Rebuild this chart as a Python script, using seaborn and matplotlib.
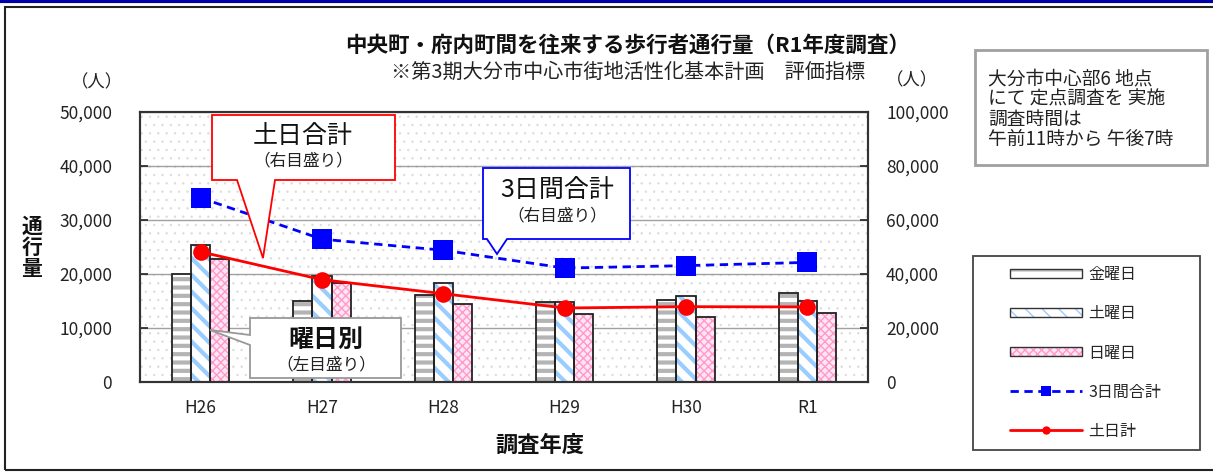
import numpy as np
import pandas as pd
import matplotlib
matplotlib.use("Agg")
import matplotlib.pyplot as plt
import seaborn as sns
from matplotlib.patches import Rectangle, Polygon, Patch
from matplotlib.lines import Line2D
from matplotlib.ticker import FuncFormatter

years = ["H26", "H27", "H28", "H29", "H30", "R1"]
fri = [20000, 15000, 16100, 14800, 15200, 16500]
sat = [25400, 19600, 18300, 14800, 15900, 15000]
sun = [22800, 18300, 14400, 12600, 12000, 12800]
total3 = [68200, 52900, 48800, 42200, 43100, 44300]
satsun = [48200, 37900, 32700, 27400, 27900, 27800]
day_labels = ["金曜日", "土曜日", "日曜日"]

sns.set_style("white")
plt.rcParams['font.family'] = ['Noto Sans CJK JP', 'DejaVu Sans']

W, H = 1213, 473
fig = plt.figure(figsize=(W / 100, H / 100), dpi=100)

def px(x, y):
    return (x / W, 1 - y / H)

ax = fig.add_axes([140 / W, 1 - 382 / H, (868 - 140) / W, (382 - 112) / H])

df = pd.DataFrame({
    "year": years * 3,
    "day": [day_labels[0]] * 6 + [day_labels[1]] * 6 + [day_labels[2]] * 6,
    "value": fri + sat + sun,
})
sns.barplot(data=df, x="year", y="value", hue="day", ax=ax, width=0.47, gap=0,
            errorbar=None, legend=False, saturation=1)

# bar styles: facecolor, hatch colour, hatch, hatch width
styles = [("white", "#b4b4b4", "--", 3.0),
          ("white", "#99ccff", "\\\\", 3.0),
          ("#ffe6f2", "#ff99cc", "xxxx", 1.0)]

def style_patch(p, fc, hc, hatch, hlw):
    p.set_facecolor(fc)
    p.set_edgecolor(hc)
    p.set_hatch(hatch)
    p.set_linewidth(0)
    try:
        p.set_hatch_linewidth(hlw)
    except AttributeError:
        pass

for cont, st in zip(ax.containers, styles):
    for bar in cont:
        style_patch(bar, *st)
        ax.add_patch(Rectangle(bar.get_xy(), bar.get_width(), bar.get_height(),
                               fill=False, ec="#222222", lw=1.3, zorder=bar.get_zorder() + 0.1))

# dotted background
bg = Rectangle((0, 0), 1, 1, transform=ax.transAxes, facecolor="white", hatch="..",
               edgecolor="#dcdcdc", lw=0, zorder=0)
try:
    bg.set_hatch_linewidth(0.5)
except AttributeError:
    pass
ax.add_patch(bg)

ax.set_xlim(-0.5, 5.5)
ax.set_ylim(0, 50000)
ax.set_yticks(np.arange(0, 50001, 10000))
ax.yaxis.set_major_formatter(FuncFormatter(lambda v, p: f"{int(v):,}"))
ax.grid(axis="y", color="#a0a0a0", lw=1)
ax.set_axisbelow(True)
ax.set_xlabel("")
ax.set_ylabel("")
ax.set_xticks(np.arange(0.5, 5.5, 1), minor=True)
ax.tick_params(axis="x", which="major", length=0, pad=12, labelsize=12.5, colors="#222222")
ax.tick_params(axis="x", which="minor", direction="in", length=8, width=1.2, color="#333333")
ax.tick_params(axis="y", direction="in", length=6, width=1.2, pad=20, labelsize=12.5,
               colors="#222222")
for s in ax.spines.values():
    s.set_color("#333333")
    s.set_linewidth(1.5)

ax2 = ax.twinx()
ax2.set_ylim(0, 100000)
ax2.set_yticks(np.arange(0, 100001, 20000))
ax2.yaxis.set_major_formatter(FuncFormatter(lambda v, p: f"{int(v):,}"))
ax2.tick_params(axis="y", direction="in", length=6, width=1.2, pad=13, labelsize=12.5,
                colors="#222222")
for s in ax2.spines.values():
    s.set_color("#333333")
    s.set_linewidth(1.5)
xpos = np.arange(len(years))
sns.lineplot(x=xpos, y=total3, ax=ax2, color="#0000ff", lw=2, linestyle=(0, (3, 2)),
             marker="s", markersize=14, markeredgewidth=0)
sns.lineplot(x=xpos, y=satsun, ax=ax2, color="#ff0000", lw=2, marker="o", markersize=12,
             markeredgewidth=0)
ax2.set_xlim(-0.5, 5.5)
ax2.set_ylabel("")

# outer frame and top line
fig.add_artist(Rectangle(px(5, 470), 1.0, (470 - 7) / H, transform=fig.transFigure,
                         fill=False, ec="#222222", lw=1.5))
fig.add_artist(Line2D([0, 1], [1 - 1 / H, 1 - 1 / H], transform=fig.transFigure,
                      color="#0000aa", lw=3))

# texts
fig.text(*px(628, 45), "中央町・府内町間を往来する歩行者通行量（R1年度調査）", ha="center",
         va="center", fontsize=15.5, fontweight="bold", color="#111111")
fig.text(*px(628, 72), "※第3期大分市中心市街地活性化基本計画　評価指標", ha="center",
         va="center", fontsize=14.5, color="#222222")
fig.text(*px(97, 82), "（人）", ha="center", va="center", fontsize=12.5, color="#222222")
fig.text(*px(912, 80), "（人）", ha="center", va="center", fontsize=12.5, color="#222222")
fig.text(*px(32, 247), "通\n行\n量", ha="center", va="center", fontsize=15,
         fontweight="bold", linespacing=1.0, color="#111111")
fig.text(*px(540, 445), "調査年度", ha="center", va="center", fontsize=16,
         fontweight="bold", color="#111111")

# note box
fig.add_artist(Rectangle(px(975, 165), (1207 - 975) / W, (165 - 50) / H,
                         transform=fig.transFigure, fill=False, ec="#a0a0a0", lw=2))
fig.text(*px(988, 109), "大分市中心部6 地点\nにて 定点調査を 実施\n調査時間は\n午前11時から 午後7時",
         ha="left", va="center", fontsize=13.5, linespacing=0.95, color="#222222")

# callouts
def callout(points, ec, lw=1.3):
    fig.add_artist(Polygon([px(x, y) for x, y in points], closed=True,
                           transform=fig.transFigure, fc="white", ec=ec, lw=lw))

callout([(212, 115), (395, 115), (395, 180), (275, 180), (263, 258), (237, 180), (212, 180)],
        "#ff0000")
fig.text(*px(303, 136), "土日合計", ha="center", va="center", fontsize=18, color="#111111")
fig.text(*px(303, 161), "（右目盛り）", ha="center", va="center", fontsize=12, color="#222222")

callout([(483, 168), (630, 168), (630, 239), (507, 239), (497, 254), (487, 239), (483, 239)],
        "#0000ff")
fig.text(*px(557, 191), "3日間合計", ha="center", va="center", fontsize=18, color="#111111")
fig.text(*px(557, 216), "（右目盛り）", ha="center", va="center", fontsize=12, color="#222222")

callout([(250, 318), (401, 318), (401, 378), (250, 378), (250, 345), (210, 330), (250, 335)],
        "#999999")
fig.text(*px(326, 340), "曜日別", ha="center", va="center", fontsize=18, fontweight="bold",
         color="#111111")
fig.text(*px(326, 365), "（左目盛り）", ha="center", va="center", fontsize=12, color="#222222")

# legend
fig.add_artist(Rectangle(px(973, 450), (1200 - 973) / W, (450 - 256) / H,
                         transform=fig.transFigure, fill=False, ec="#444444", lw=1.3))
handles = []
for st in styles:
    fill = Patch()
    style_patch(fill, *st)
    outline = Patch(fill=False, edgecolor="#333333", lw=1)
    handles.append((fill, outline))
handles.append(Line2D([], [], color="#0000ff", lw=2, linestyle=(0, (3, 2)), marker="s",
                      markersize=7, markeredgewidth=0))
handles.append(Line2D([], [], color="#ff0000", lw=2, marker="o", markersize=6,
                      markeredgewidth=0))
fig.legend(handles, day_labels + ["3日間合計", "土日計"], loc="center",
           bbox_to_anchor=px(1086, 353), frameon=False, handlelength=4.5, handleheight=0.5,
           labelspacing=1.38, fontsize=11.5, handletextpad=0.4)

fig.savefig("out.png", dpi=100)
